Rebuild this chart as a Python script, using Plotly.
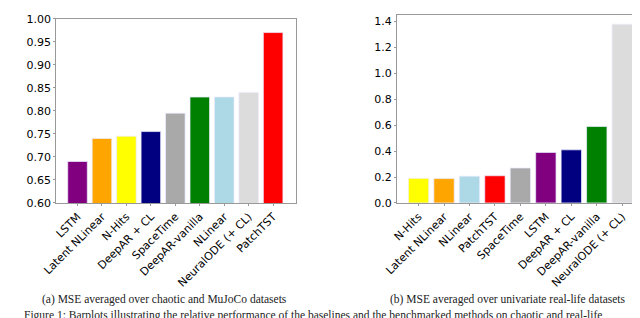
import plotly.graph_objects as go

# Panel (a)
cats_a = ["LSTM", "Latent NLinear", "N-Hits", "DeepAR + CL", "SpaceTime",
          "DeepAR-vanilla", "NLinear", "NeuralODE (+ CL)", "PatchTST"]
vals_a = [0.69, 0.74, 0.745, 0.755, 0.795, 0.83, 0.83, 0.84, 0.97]
cols_a = ["purple", "orange", "yellow", "navy", "darkgray", "green",
          "lightblue", "gainsboro", "red"]
ticks_a = [0.60, 0.65, 0.70, 0.75, 0.80, 0.85, 0.90, 0.95, 1.00]

# Panel (b)
cats_b = ["N-Hits", "Latent NLinear", "NLinear", "PatchTST", "SpaceTime",
          "LSTM", "DeepAR + CL", "DeepAR-vanilla", "NeuralODE (+ CL)"]
vals_b = [0.19, 0.188, 0.207, 0.21, 0.27, 0.39, 0.41, 0.59, 1.38]
cols_b = ["yellow", "orange", "lightblue", "red", "darkgray", "purple",
          "navy", "green", "gainsboro"]
ticks_b = [0.0, 0.2, 0.4, 0.6, 0.8, 1.0, 1.2, 1.4]

cap_a = "(a) MSE averaged over chaotic and MuJoCo datasets"
cap_b = "(b) MSE averaged over univariate real-life datasets"
fig_caption = ("Figure 1: Barplots illustrating the relative performance of the baselines "
               "and the benchmarked methods on chaotic and real-life")

W, H = 640, 318
fig = go.Figure()
edge = dict(color="rgba(235,235,255,0.9)", width=0.8)
fig.add_trace(go.Bar(x=cats_a, y=vals_a, marker=dict(color=cols_a, line=edge),
                     width=0.8, xaxis="x", yaxis="y", showlegend=False))
fig.add_trace(go.Bar(x=cats_b, y=vals_b, marker=dict(color=cols_b, line=edge),
                     width=0.8, xaxis="x2", yaxis="y2", showlegend=False))

tickfont = dict(family="DejaVu Sans", size=11, color="black")
common_x = dict(type="category", tickangle=-45, tickfont=tickfont, showline=True, mirror=True,
                linecolor="#999999", linewidth=1, ticks="outside", ticklen=2, tickcolor="#999999",
                showgrid=False, zeroline=False, ticklabeloverflow="allow")
common_y = dict(tickfont=tickfont, showline=True, mirror=True, linecolor="#999999", linewidth=1,
                ticks="outside", ticklen=2, tickcolor="#999999", showgrid=False, zeroline=False,
                ticklabeloverflow="allow")

serif = "Liberation Serif"
fig.update_layout(
    width=W, height=H, margin=dict(l=0, r=0, t=0, b=0),
    paper_bgcolor="white", plot_bgcolor="white",
    xaxis=dict(domain=[35 / W, 280 / W], range=[-0.87, 8.93], anchor="y", **common_x),
    yaxis=dict(domain=[(H - 197) / H, (H - 4.7) / H], range=[0.6, 1.0005], tickvals=ticks_a,
               ticktext=[f"{v:.2f}" for v in ticks_a], anchor="x", **common_y),
    xaxis2=dict(domain=[383.3 / W, 635 / W], range=[-0.85, 8.82], anchor="y2", **common_x),
    yaxis2=dict(domain=[(H - 197) / H, (H - 1.3) / H], range=[0, 1.449], tickvals=ticks_b,
                ticktext=[f"{v:.1f}" for v in ticks_b], anchor="x2", **common_y),
    annotations=[
        dict(text=cap_a, x=146 / W, y=(H - 298) / H, xref="paper", yref="paper", showarrow=False,
             xanchor="center", yanchor="middle", font=dict(family=serif, size=11.5, color="#222")),
        dict(text=cap_b, x=497 / W, y=(H - 298) / H, xref="paper", yref="paper", showarrow=False,
             xanchor="center", yanchor="middle", font=dict(family=serif, size=11.5, color="#222")),
        dict(text=fig_caption, x=0, y=(H - 305) / H, xref="paper", yref="paper", showarrow=False,
             xanchor="left", yanchor="top", font=dict(family=serif, size=11.5, color="#222")),
    ],
)

fig.write_html("out.html")
